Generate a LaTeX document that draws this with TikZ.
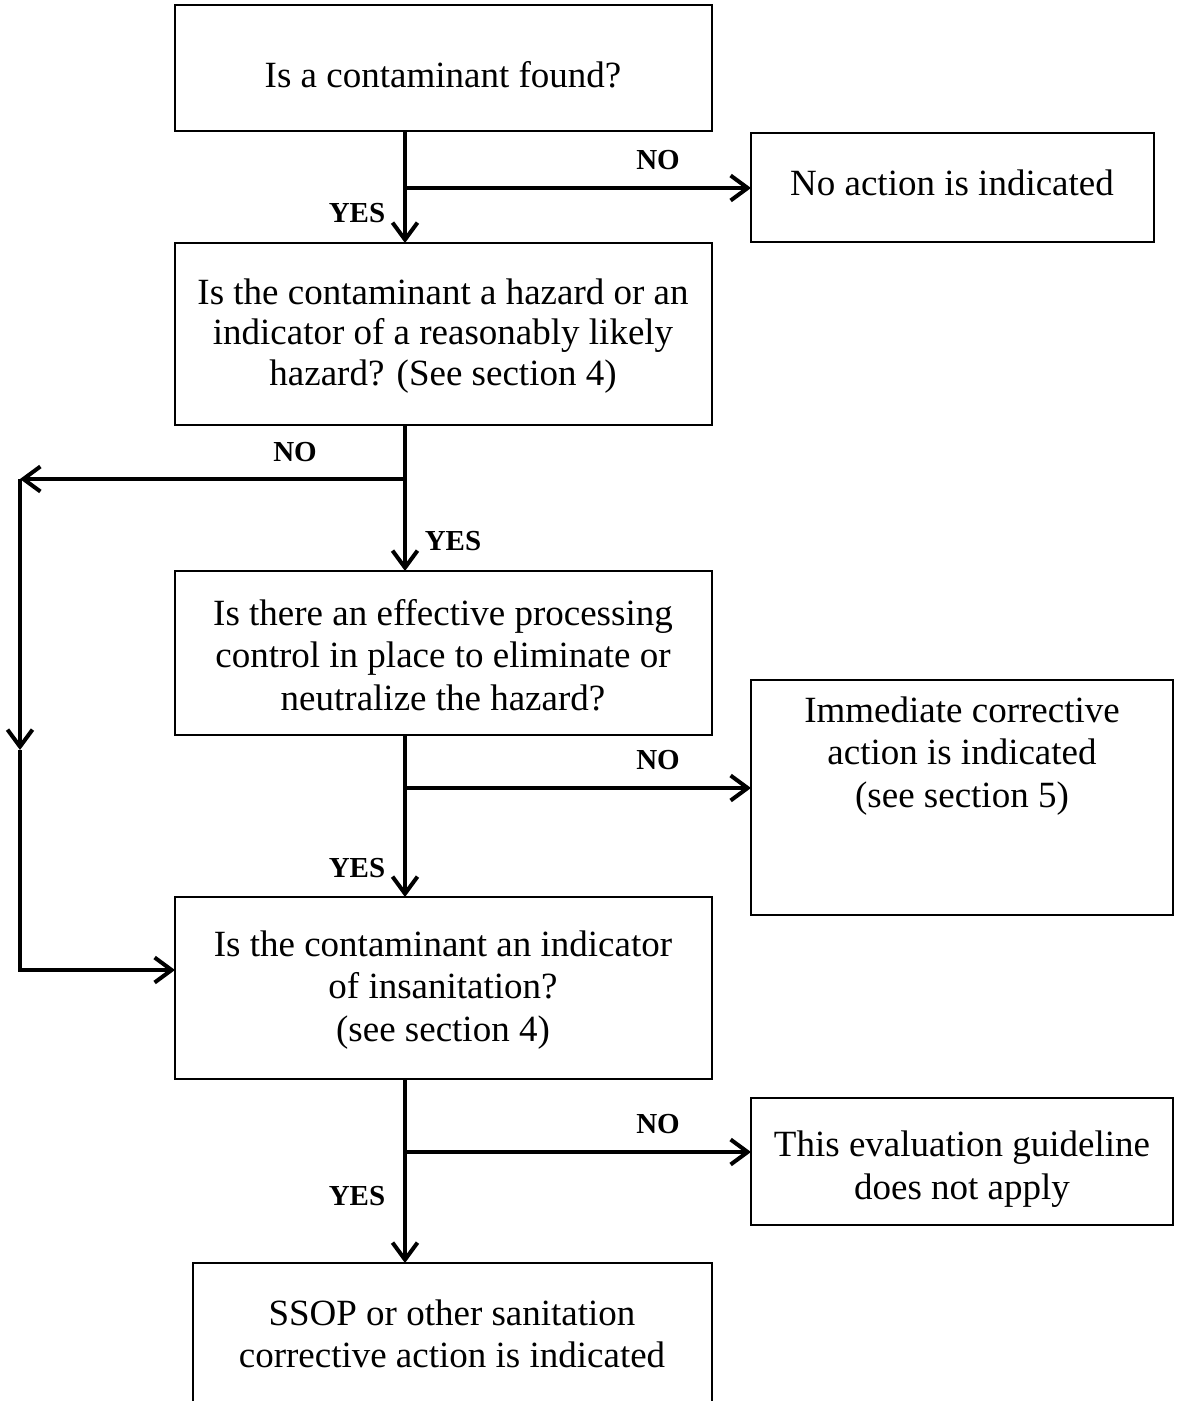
\documentclass[tikz,border=0pt]{standalone}
\usepackage{fontspec}
\setmainfont{Liberation Serif}
\usetikzlibrary{arrows.meta,calc}
\begin{document}
\begin{tikzpicture}[x=1pt,y=-1pt,
  box/.style={draw=black,line width=1.7pt,rectangle,inner sep=0pt,outer sep=0pt},
  txt/.style={align=center,inner sep=0pt,font=\fontsize{37}{42.5}\selectfont},
  lbl/.style={inner sep=0pt,font=\bfseries\fontsize{29}{30}\selectfont},
  arr/.style={line width=4pt,-{Straight Barb[length=17pt,width=25pt,line width=4pt]}}]
\useasboundingbox (0,0) rectangle (1192,1401);
\clip (0,0) rectangle (1192,1401);
% boxes
\node[box,minimum width=537pt,minimum height=126pt] (b1) at (443.5,68) {};
\node[box,minimum width=403pt,minimum height=109pt] (b2) at (952.5,187.5) {};
\node[box,minimum width=537pt,minimum height=182pt] (b3) at (443.5,334) {};
\node[box,minimum width=537pt,minimum height=164pt] (b4) at (443.5,653) {};
\node[box,minimum width=422pt,minimum height=235pt] (b5) at (962,797.5) {};
\node[box,minimum width=537pt,minimum height=182pt] (b6) at (443.5,988) {};
\node[box,minimum width=422pt,minimum height=127pt] (b7) at (962,1161.5) {};
\node[box,minimum width=519pt,minimum height=197pt] (b8) at (452.5,1361.5) {};
% texts
\node[txt] (t1) at (443,75) {Is a contaminant found?};
\node[txt] (t2) at (952,183) {No action is indicated};
\node[txt,font=\fontsize{37}{40.5}\selectfont] (t3) at (443,336) {Is the contaminant a hazard or an\\indicator of a reasonably likely\\hazard? (See section 4)};
\node[txt] (t4) at (443,655) {Is there an effective processing\\control in place to eliminate or\\neutralize the hazard?};
\node[txt] (t5) at (962,756) {Immediate corrective\\action is indicated\\(see section 5)};
\node[txt] (t6) at (443,990) {Is the contaminant an indicator\\of insanitation?\\(see section 4)};
\node[txt] (t7) at (962,1169) {This evaluation guideline\\does not apply};
\node[txt] (t8) at (452,1334) {SSOP or other sanitation\\corrective action is indicated};
% labels
\node[lbl] (n1) at (658,160) {NO};
\node[lbl] (y1) at (357,213) {YES};
\node[lbl] (n2) at (295,452) {NO};
\node[lbl] (y2) at (453,541) {YES};
\node[lbl] (n3) at (658,760) {NO};
\node[lbl] (y3) at (357,868) {YES};
\node[lbl] (n4) at (658,1124) {NO};
\node[lbl] (y4) at (357,1196) {YES};
% junctions
\coordinate (j1) at (405,188);
\coordinate (j2) at (405,479);
\coordinate (j3) at (405,788);
\coordinate (j4) at (405,1152);
\coordinate (c1) at (20,479);
\coordinate (c2) at (20,750);
\coordinate (c3) at (20,970);
% connectors
\draw[arr] (b1.south -| j1) -- (b3.north -| j1);
\draw[arr] (j1) -- (b2.west |- j1);
\draw[arr] (b3.south -| j2) -- (b4.north -| j2);
\draw[arr] (j2) -- (c1);
\draw[arr] (c1) -- (c2);
\draw[arr] (c2) -- (c3) -- (b6.west |- c3);
\draw[arr] (b4.south -| j3) -- (b6.north -| j3);
\draw[arr] (j3) -- (b5.west |- j3);
\draw[arr] (b6.south -| j4) -- (b8.north -| j4);
\draw[arr] (j4) -- (b7.west |- j4);
\end{tikzpicture}
\end{document}
